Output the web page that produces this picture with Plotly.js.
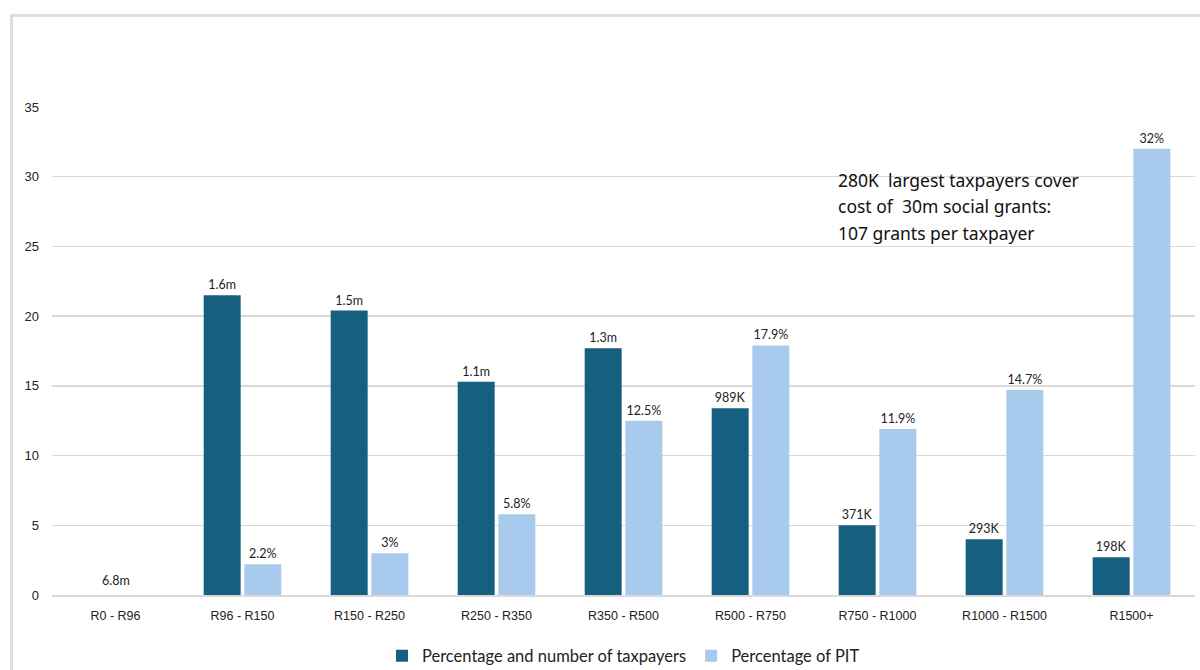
<!DOCTYPE html>
<html>
<head>
<meta charset="utf-8">
<script src="https://cdn.plot.ly/plotly-3.0.1.min.js"></script>
<style>
html,body{margin:0;padding:0;background:#fff;overflow:hidden;}
#chart{width:1200px;height:670px;}
#frame{position:absolute;left:10px;top:14px;width:1300px;height:800px;border:3px solid #dedede;pointer-events:none;box-sizing:border-box;}
</style>
</head>
<body>
<div id="chart"></div>
<div id="frame"></div>
<script>
const categories = ["R0 - R96","R96 - R150","R150 - R250","R250 - R350","R350 - R500","R500 - R750","R750 - R1000","R1000 - R1500","R1500+"];
const taxpayersPct = [0, 21.5, 20.4, 15.3, 17.7, 13.4, 5.0, 4.0, 2.7];
const taxpayersLabels = ["", "1.6m", "1.5m", "1.1m", "1.3m", "989K", "371K", "293K", "198K"];
const firstBandLabel = "6.8m";
const pitPct = [0, 2.2, 3.0, 5.8, 12.5, 17.9, 11.9, 14.7, 32];
const pitLabels = ["", "2.2%", "3%", "5.8%", "12.5%", "17.9%", "11.9%", "14.7%", "32%"];
const yTicks = [0, 5, 10, 15, 20, 25, 30, 35];
const noteLines = ["280K  largest taxpayers cover", "cost of  30m social grants:", "107 grants per taxpayer"];

const labelFont = {family: "Lato, 'Open Sans', sans-serif", size: 12.5, color: "#222"};

const traces = [
  {
    type: "bar", name: "Percentage and number of taxpayers",
    x: categories, y: taxpayersPct, text: taxpayersLabels,
    textposition: "outside", textfont: labelFont, cliponaxis: false,
    marker: {color: "#175F80"}, hoverinfo: "x+y"
  },
  {
    type: "bar", name: "Percentage of PIT",
    x: categories, y: pitPct, text: pitLabels,
    textposition: "outside", textfont: labelFont, cliponaxis: false,
    marker: {color: "#A8CAEC"}, hoverinfo: "x+y"
  }
];

const noteAnnotations = noteLines.map((line, i) => ({
  xref: "paper", yref: "y", x: 0.686, xanchor: "left",
  y: 29.75 - i * 1.88, yanchor: "middle",
  align: "left", showarrow: false, text: line,
  font: {family: "'Noto Sans', Roboto, sans-serif", size: 17.5, color: "#111"}
}));

const layout = {
  width: 1200, height: 670,
  margin: {l: 52, r: 5, t: 107, b: 75},
  paper_bgcolor: "#fff", plot_bgcolor: "#fff",
  barmode: "group", bargap: 0.36, bargroupgap: 0.09,
  showlegend: true,
  legend: {orientation: "h", x: 0.5, xanchor: "center",
           yref: "container", y: 0.021, yanchor: "middle",
           font: {family: "Lato, 'Open Sans', sans-serif", size: 16.5, color: "#222"},
           traceorder: "normal", tracegroupgap: 40},
  xaxis: {
    type: "category", showgrid: false, zeroline: false, automargin: false,
    showline: true, linecolor: "#d9d9d9", linewidth: 2,
    ticks: "", ticklabelstandoff: 8,
    tickfont: {family: "'Liberation Sans', Arial, sans-serif", size: 12.5, color: "#222"}
  },
  yaxis: {
    range: [0, 35], tickvals: yTicks, showgrid: true, gridcolor: "#d9d9d9", gridwidth: 1.5,
    zeroline: false, showline: false, automargin: false, ticks: "", ticklabelstandoff: 12,
    tickfont: {family: "'Liberation Sans', Arial, sans-serif", size: 13, color: "#222"}
  },
  annotations: [
    {xref: "x", yref: "y", x: categories[0], y: 0, yanchor: "bottom", yshift: 5,
     text: firstBandLabel, showarrow: false, font: labelFont}
  ].concat(noteAnnotations)
};

Plotly.newPlot("chart", traces, layout, {displayModeBar: false, staticPlot: true});
</script>
</body>
</html>
